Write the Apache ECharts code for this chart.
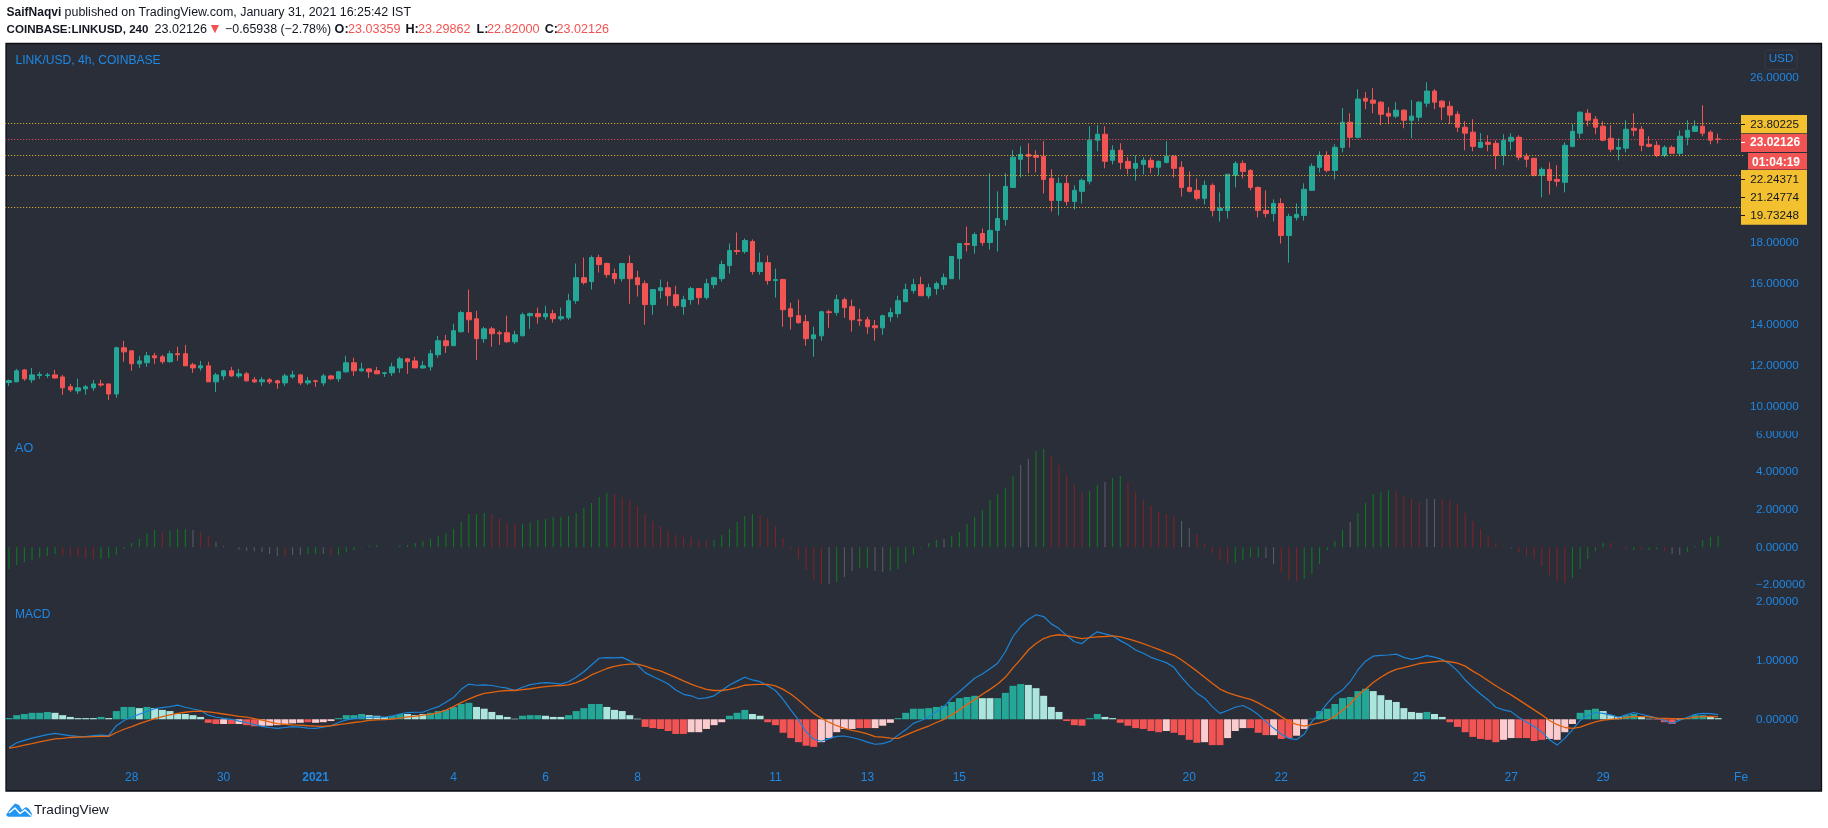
<!DOCTYPE html>
<html><head><meta charset="utf-8">
<style>html,body{margin:0;padding:0;background:#fff}#c{width:1828px;height:828px}</style>
<script src="https://cdn.jsdelivr.net/npm/echarts@6/dist/echarts.min.js"></script>
</head><body><div id="c"></div>
<script>
// [open, close, low, high] per 4h candle
const candles = [
[11.19,11.28,11.02,11.33],[11.22,11.76,11.22,11.85],[11.80,11.37,11.27,11.85],[11.32,11.56,11.17,11.90],[11.53,11.58,11.37,11.71],[11.53,11.56,11.41,11.66],[11.56,11.41,11.37,11.80],[11.46,10.93,10.59,11.56],
[10.98,10.83,10.73,11.12],[10.78,10.93,10.63,11.37],[10.88,10.98,10.59,11.07],[10.93,11.12,10.78,11.32],[11.12,11.07,10.98,11.32],[11.12,10.63,10.34,11.12],[10.63,12.88,10.44,12.93],[12.88,12.68,12.20,13.22],
[12.73,12.10,11.76,12.73],[12.10,12.24,11.90,12.49],[12.15,12.49,11.95,12.68],[12.49,12.39,12.10,12.63],[12.44,12.20,12.10,12.54],[12.20,12.59,12.15,12.73],[12.59,12.54,12.24,12.93],[12.59,12.00,12.00,13.02],
[12.05,11.90,11.66,12.15],[11.90,12.00,11.76,12.24],[12.00,11.22,11.22,12.20],[11.22,11.56,10.73,11.66],[11.51,11.76,11.32,11.80],[11.76,11.51,11.46,11.95],[11.51,11.61,11.41,11.85],[11.61,11.27,11.22,11.71],
[11.32,11.22,11.17,11.46],[11.22,11.32,11.02,11.46],[11.32,11.22,11.12,11.41],[11.27,11.17,10.88,11.32],[11.17,11.51,11.02,11.61],[11.46,11.56,11.37,11.76],[11.56,11.17,11.07,11.61],[11.17,11.27,11.07,11.46],
[11.27,11.24,10.98,11.32],[11.17,11.51,11.02,11.61],[11.51,11.37,11.32,11.56],[11.37,11.71,11.22,11.76],[11.71,12.15,11.66,12.49],[12.15,11.76,11.51,12.39],[11.76,11.85,11.71,12.15],[11.85,11.71,11.41,11.90],
[11.76,11.61,11.61,11.95],[11.63,11.66,11.46,11.71],[11.66,11.95,11.51,12.15],[11.90,12.34,11.66,12.44],[12.34,12.20,11.61,12.39],[12.24,11.90,11.90,12.44],[11.90,12.00,11.85,12.24],[11.95,12.59,11.76,12.78],
[12.54,13.22,12.39,13.46],[13.22,12.98,12.63,13.51],[12.98,13.71,12.98,14.05],[13.66,14.59,13.61,14.68],[14.59,14.24,13.61,15.71],[14.29,13.32,12.29,14.68],[13.32,13.80,13.12,13.90],[13.80,13.56,12.93,13.90],
[13.61,13.56,13.02,13.71],[13.61,13.17,13.12,14.44],[13.17,13.51,13.07,13.71],[13.46,14.49,13.46,14.59],[14.44,14.54,13.80,14.59],[14.54,14.39,14.05,14.83],[14.39,14.54,14.24,14.93],[14.54,14.29,14.10,14.73],
[14.29,14.39,14.20,14.83],[14.34,15.17,14.24,15.51],[15.17,16.29,15.02,16.98],[16.29,16.05,15.95,17.27],[16.10,17.27,15.71,17.37],[17.27,16.93,16.54,17.41],[16.98,16.44,16.29,17.02],[16.49,16.24,16.00,16.73],
[16.24,16.98,16.10,16.98],[16.98,16.24,15.02,17.37],[16.29,15.95,15.37,16.63],[16.00,14.98,14.00,16.15],[14.98,15.71,14.49,15.71],[15.66,15.80,15.27,16.20],[15.80,15.41,14.93,16.10],[15.46,14.93,14.83,15.90],
[14.88,15.22,14.49,15.41],[15.22,15.76,14.98,15.85],[15.76,15.32,14.98,15.76],[15.32,16.00,15.22,16.24],[15.95,16.29,15.76,16.34],[16.24,16.93,16.10,17.12],[16.88,17.61,16.49,17.95],[17.61,17.56,17.41,18.49],
[17.56,18.10,17.46,18.20],[18.05,16.59,16.44,18.15],[16.59,17.02,16.44,17.51],[17.02,16.15,15.95,17.37],[16.15,16.20,15.32,16.73],[16.20,14.73,13.90,16.24],[14.78,14.39,13.76,15.07],[14.44,14.10,14.05,15.22],
[14.15,13.32,12.98,14.49],[13.32,13.51,12.44,13.90],[13.46,14.63,13.22,14.68],[14.63,14.59,13.85,14.73],[14.59,15.22,14.44,15.46],[15.22,14.83,14.34,15.32],[14.88,14.24,13.66,15.22],[14.24,14.20,13.95,14.78],
[14.24,13.90,13.56,14.39],[13.95,13.85,13.22,14.24],[13.85,14.44,13.51,14.49],[14.39,14.59,14.15,14.83],[14.54,15.17,14.34,15.41],[15.12,15.71,15.12,16.00],[15.66,15.95,15.51,16.24],[15.95,15.41,15.41,16.34],
[15.41,15.80,15.27,16.00],[15.76,16.00,15.46,16.10],[15.95,16.29,15.71,16.49],[16.24,17.32,16.24,17.32],[17.22,17.95,16.20,17.95],[17.95,17.90,17.56,18.78],[17.85,18.39,17.46,18.49],[18.44,18.00,17.85,18.68],
[18.00,18.59,17.66,21.37],[18.59,19.17,17.56,20.49],[19.12,20.73,18.83,21.37],[20.68,22.15,20.68,22.49],[22.05,22.29,21.17,22.68],[22.29,22.20,21.37,22.83],[22.24,22.15,21.41,22.49],[22.20,21.07,20.39,22.93],
[21.12,20.05,19.51,21.56],[20.05,20.88,19.32,21.17],[20.88,20.00,19.80,21.27],[20.00,20.54,19.61,20.78],[20.49,21.02,19.90,21.12],[20.98,22.98,20.83,23.66],[22.98,23.27,22.44,23.71],[23.27,21.95,21.61,23.66],
[22.00,22.49,21.80,22.73],[22.49,21.90,21.56,22.83],[21.95,21.61,21.32,22.15],[21.61,21.85,21.02,22.24],[21.80,22.00,21.32,22.15],[22.00,21.66,21.37,22.15],[21.66,21.95,21.27,22.00],[21.90,22.20,21.85,22.93],
[22.20,21.61,21.17,22.24],[21.66,20.68,20.24,21.95],[20.68,20.49,20.44,21.46],[20.54,20.15,20.05,21.12],[20.15,20.78,19.85,21.02],[20.78,19.56,19.27,20.88],[19.56,19.66,19.02,20.44],[19.56,21.32,19.17,21.32],
[21.27,21.85,20.68,21.95],[21.85,21.46,21.12,22.00],[21.51,20.68,20.54,21.56],[20.68,19.56,19.22,20.73],[19.56,19.41,19.22,20.54],[19.41,19.90,19.02,20.10],[19.90,18.34,17.95,20.15],[18.34,19.27,17.02,19.41],
[19.22,19.37,19.07,19.90],[19.32,20.59,19.07,20.88],[20.54,21.71,20.54,21.85],[21.66,22.24,21.41,22.44],[22.24,21.51,21.41,22.44],[21.51,22.63,21.07,22.78],[22.63,23.85,22.39,24.54],[23.85,23.12,22.63,24.29],
[23.12,24.98,23.07,25.46],[25.02,24.88,24.49,25.32],[24.93,24.78,24.29,25.51],[24.83,24.24,23.71,24.88],[24.29,24.15,23.76,24.59],[24.15,24.44,24.05,24.83],[24.44,23.95,23.56,24.49],[23.95,24.15,23.07,24.93],
[24.10,24.83,23.90,24.88],[24.78,25.37,24.59,25.80],[25.37,24.83,24.49,25.46],[24.88,24.59,23.95,24.93],[24.63,24.20,23.76,24.88],[24.24,23.61,23.37,24.39],[23.61,23.32,22.49,23.90],[23.37,22.68,22.44,24.00],
[22.63,22.88,22.59,23.32],[22.88,22.78,22.44,23.22],[22.83,22.24,21.56,22.98],[22.24,22.98,21.76,23.27],[22.93,23.12,22.49,23.32],[23.12,22.15,22.00,23.22],[22.20,22.05,21.66,22.34],[22.10,21.27,21.22,22.10],
[21.27,21.56,20.20,21.66],[21.56,21.02,20.34,21.90],[21.07,20.98,20.73,21.76],[20.93,22.73,20.44,22.88],[22.68,23.41,22.63,23.76],[23.32,24.34,23.07,24.39],[24.29,23.95,23.66,24.49],[24.00,23.61,23.27,24.15],
[23.66,22.98,22.93,23.90],[23.07,22.54,22.39,23.71],[22.54,22.63,22.00,23.07],[22.59,23.51,22.39,23.95],[23.56,23.46,23.17,24.29],[23.51,22.73,22.44,23.66],[22.78,22.68,22.63,23.17],[22.73,22.24,22.15,22.93],
[22.24,22.63,22.15,22.73],[22.63,22.34,22.34,22.73],[22.34,23.17,22.20,23.46],[23.12,23.46,22.73,23.95],[23.41,23.66,23.37,23.95],[23.66,23.32,23.17,24.68],[23.37,22.98,22.78,23.46],[23.03359,23.02126,22.82,23.29862]
];
const aoValues = [
-1.15,-.94,-.78,-.67,-.57,-.46,-.35,-.41,-.46,-.51,-.57,-.62,-.62,-.57,-.41,-.09,.23,.44,.76,.92,.82,.87,.98,.98,.92,.82,.60,.28,.07,.02,-.12,-.18,-.21,-.25,-.35,-.46,-.46,-.41,-.41,-.35,-.35,-.35,-.41,-.41,-.25,-.14,-.02,.05,.12,.02,.01,.09,.12,.23,.34,.44,.60,.76,.98,1.35,1.77,1.77,1.83,1.77,1.56,1.29,1.24,1.24,1.29,1.45,1.51,1.61,1.61,1.67,1.83,2.09,2.36,2.68,2.89,2.84,2.68,2.52,2.20,1.77,1.40,1.13,.87,.66,.55,.55,.39,.34,.39,.66,.98,1.35,1.67,1.77,1.72,1.56,1.08,.50,-.14,-.62,-1.21,-1.74,-1.95,-1.95,-1.84,-1.58,-1.26,-1.10,-1.10,-1.26,-1.31,-1.26,-1.15,
-.83,-.41,-.04,.23,.39,.44,.60,.82,1.24,1.61,1.99,2.52,2.84,3.16,3.79,4.38,4.70,5.12,5.23,4.86,4.38,3.85,3.32,2.89,3.00,3.32,3.48,3.69,3.79,3.48,2.94,2.52,2.20,1.88,1.77,1.67,1.40,1.03,.71,.18,-.30,-.67,-.89,-.83,-.67,-.51,-.51,-.57,-.89,-1.31,-1.74,-1.79,-1.68,-1.42,-.89,-.14,.34,.92,1.35,1.83,2.36,2.84,2.94,3.05,3.00,2.73,2.57,2.41,2.57,2.57,2.57,2.52,2.30,1.83,1.40,.98,.60,.23,.07,-.05,-.25,-.46,-.62,-.99,-1.47,-1.79,-1.90,-1.63,-1.15,-.62,-.20,.23,.23,.02,-.14,-.14,-.14,-.14,-.11,-.20,-.35,-.41,-.25,.07,.39,.55,.60];
const aoTones = ['ggggggg','rrrrr','gggggggg','r','ggg','n','rr','nn','r','nnnnnn','r','nn','gg','n','r','gggggg','rr','gggggggggggg','rrrr','gggggggggggg','rrrrrrrrrrrrr','gggggg','rrrrrrrrr','n','g','nn','gg','nn','gg',
'ggggg','n','ggggggggg','nn','gg','rrrrr','gg','n','gg','rrrrrrr','nn','rrrrr','gggg','nn','rrr','gggggg','n','ggggg','rrrr','nn','rrrrrrrrr','n','rrrrrrr','ggggg','rrr','g','r','gg','r','nn','ggggg'].join('');
const histValues = [
.02,.07,.09,.11,.11,.125,.11,.07,.04,.02,.02,.02,.04,.02,.14,.21,.21,.19,.21,.19,.16,.14,.09,.09,.07,.04,
-.06,-.08,-.08,-.08,-.08,-.10,-.12,-.11,-.11,-.10,-.09,-.07,-.06,-.05,-.06,-.05,-.03,
.02,.07,.07,.09,.07,.06,.04,.06,.09,.09,.07,.09,.11,.14,.16,.21,.26,.28,.21,.18,.125,.07,.04,.01,.06,.07,.07,.06,.04,.04,.07,.14,.19,.26,.26,.21,.16,.14,.07,.01,
-.13,-.15,-.165,-.20,-.25,-.25,-.22,-.22,-.165,-.10,-.05,.06,.11,.16,.09,.06,-.05,-.10,-.23,-.32,-.39,-.45,-.47,-.39,-.32,-.22,-.165,-.165,-.15,-.15,-.15,-.11,-.06,.02,
.11,.18,.18,.19,.21,.23,.295,.36,.38,.40,.36,.36,.36,.45,.57,.60,.585,.53,.40,.21,.125,-.03,-.10,-.11,.02,.09,.04,.02,
-.06,-.11,-.15,-.165,-.20,-.22,-.20,-.23,-.27,-.35,-.40,-.39,-.44,-.44,-.32,-.20,-.15,-.15,-.23,-.27,-.27,-.335,-.32,-.28,-.165,
.01,.14,.18,.26,.36,.38,.48,.52,.48,.41,.33,.295,.19,.125,.11,.125,.09,.04,
-.05,-.13,-.22,-.30,-.335,-.35,-.39,-.35,-.32,-.32,-.32,-.37,-.35,-.335,-.35,-.22,-.08,
.11,.16,.18,.14,.07,.04,.07,.09,.04,.01,-.01,-.05,-.08,-.01,.02,.07,.07,.04,.02];
const histTones = ['GGGGGG','gggggg','G','g','GGG','g','G','ggggggg',
'RR','r','R','r','RR','rrrrrr','R','rrr',
'GGGG','ggg','GG','ggg','GGGGGG','gggggg','GGG','ggg','GGGGG','ggggg',
'RRRRRR','rrrrr','GGG','gg','RRRRRRR','rrrrr','RR','rrr','G',
'GGGGGGGGGG','gg','GGGG','ggggg','RRR','GG','gg',
'RRRRRR','r','RRRR','r','RR','rrr','RRR','r','RR','rr',
'GGGGGGGG','ggggggg','G','gg',
'RRRRRRR','rr','RRRR','rrrr',
'GGG','ggg','GG','gg','RRR','r','GGG','gg'].join('');
const macdLine = [
-.48,-.40,-.36,-.32,-.29,-.26,-.24,-.26,-.28,-.29,-.295,-.28,-.27,-.28,-.11,-.02,.035,.085,.135,.18,.20,.215,.24,.205,.175,.15,.07,.035,.015,0,-.03,-.055,-.09,-.12,-.14,-.155,-.14,-.125,-.135,-.15,-.155,-.135,-.11,-.055,-.01,.01,.03,.035,.035,.035,.055,.09,.115,.12,.12,.17,.215,.29,.37,.51,.60,.58,.585,.575,.55,.53,.49,.545,.59,.61,.625,.615,.60,.64,.715,.81,.925,1.04,1.05,1.045,1.055,.995,.925,.795,.73,.67,.60,.50,.425,.40,.35,.365,.40,.49,.585,.65,.715,.67,.64,.57,.49,.34,.16,-.01,-.21,-.34,-.375,-.33,-.29,-.285,-.31,-.345,-.39,-.425,-.415,-.375,-.27,
-.18,-.07,-.02,.04,.13,.215,.36,.47,.585,.70,.77,.86,.955,1.15,1.41,1.58,1.70,1.78,1.75,1.625,1.545,1.43,1.32,1.29,1.40,1.49,1.455,1.42,1.34,1.27,1.18,1.125,1.055,1.01,.965,.885,.715,.57,.445,.36,.215,.10,.15,.205,.235,.17,.08,-.04,-.15,-.255,-.325,-.345,-.255,-.04,.10,.27,.415,.50,.64,.84,.99,1.075,1.09,1.095,1.11,1.055,1.02,1.045,1.085,1.06,1.02,.94,.825,.67,.545,.43,.33,.205,.16,.13,.03,-.045,-.125,-.215,-.35,-.44,-.325,-.18,-.02,.06,.115,.10,.075,.035,.075,.115,.085,.055,.02,-.02,-.07,-.015,.035,.085,.10,.095,.08];
const signalLine = [
-.49,-.47,-.44,-.415,-.385,-.36,-.335,-.325,-.31,-.305,-.30,-.295,-.29,-.29,-.225,-.17,-.125,-.075,-.03,.01,.045,.075,.10,.12,.135,.14,.125,.11,.09,.07,.05,.035,.01,-.015,-.045,-.075,-.085,-.095,-.10,-.11,-.115,-.12,-.11,-.09,-.075,-.055,-.04,-.02,-.01,-.005,.005,.02,.04,.05,.07,.085,.115,.155,.215,.285,.345,.40,.44,.46,.48,.49,.49,.505,.52,.54,.555,.57,.575,.585,.625,.68,.755,.81,.865,.90,.925,.94,.94,.905,.86,.825,.77,.715,.655,.60,.55,.51,.49,.49,.51,.54,.58,.59,.595,.595,.57,.51,.43,.33,.215,.10,.015,-.05,-.11,-.155,-.19,-.215,-.25,-.295,-.305,-.32,-.325,
-.27,-.215,-.165,-.115,-.055,0,.075,.16,.25,.335,.425,.51,.60,.715,.875,1.02,1.18,1.29,1.375,1.42,1.44,1.425,1.40,1.375,1.39,1.405,1.41,1.42,1.405,1.37,1.33,1.29,1.24,1.19,1.14,1.09,1.01,.915,.82,.715,.615,.515,.455,.41,.375,.34,.28,.205,.135,.045,-.04,-.085,-.115,-.09,-.06,-.02,.05,.155,.26,.41,.51,.625,.715,.795,.85,.88,.915,.95,.965,.98,.995,.98,.955,.905,.82,.745,.655,.57,.49,.415,.33,.245,.16,.075,-.02,-.09,-.14,-.155,-.135,-.085,-.045,-.015,0,.01,.03,.045,.045,.04,.02,.015,.01,.01,.015,.035,.045,.05,.045];
const priceLevels = [23.80225, 22.24371, 21.24774, 19.73248];
const lastPrice = 23.02126;
const priceTicks = [26,18,16,14,12,10];
const aoTicks = [6,4,2,0,-2];
const macdTicks = [2,1,0];
const dateTickIndex = [16,28,40,58,70,82,100,112,124,142,154,166,184,196,208,226];
const dateTickLabels = ['28','30','2021','4','6','8','11','13','15','18','20','22','25','27','29','Fe'];
const slotCount = 227;
const categories = Array.from({length:slotCount},(_,i)=>String(i));

const BLUE='#1e88e5', BG='#2a2e39', UP='#24a797', DOWN='#f25353', YEL='#f3c02f', FONT='"Liberation Sans",Arial,sans-serif';
const grids=[{top:44,height:386},{top:430,height:166},{top:596,height:174}].map(g=>({...g,left:5.2,width:1739.7,containLabel:false}));
const fmt=v=>v.toFixed(5).replace('-','\u2212');
function xAx(i,show){return {type:'category',gridIndex:i,data:categories,boundaryGap:true,axisLine:{show:false},axisTick:{show:false},splitLine:{show:false},
 axisLabel:{show:show,interval:k=>dateTickIndex.includes(k),margin:2,color:BLUE,fontSize:12,fontFamily:FONT,
  formatter:(v)=>{const k=dateTickIndex.indexOf(+v);const t=k<0?'':dateTickLabels[k];return t==='2021'?'{b|2021}':t;},
  rich:{b:{fontWeight:'bold',color:BLUE,fontSize:12,fontFamily:FONT}}}};}
function yAx(i,min,max,ticks,margin){return {type:'value',gridIndex:i,position:'right',min,max,scale:false,axisLine:{show:false},axisTick:{show:false},splitLine:{show:false},
 axisLabel:{customValues:ticks,color:BLUE,fontSize:11.7,fontFamily:FONT,margin,align:'left',formatter:fmt}};}
const T=(text,x,y,o={})=>({type:'text',z:100,silent:true,style:{text,x,y,fill:o.fill||'#131722',font:`${o.w||'normal'} ${o.s||12.6}px ${FONT}`,textVerticalAlign:'middle',textAlign:o.a||'left'}});
const R=(x,y,w,h,fill,o={})=>({type:'rect',z:o.z||90,silent:true,shape:{x,y,width:w,height:h,r:o.r||0},style:{fill,stroke:o.stroke||null,lineWidth:o.lw||0}});
const graphic=[
 R(6,43.5,1815.5,747.5,BG,{z:-10,stroke:'#0c0e14',lw:1.3}),
 R(1750,424,60,7,BG,{z:90}),
 T('SaifNaqvi',6.6,13,{w:'bold',s:12}),T('published on TradingView.com, January 31, 2021 16:25:42 IST',64.6,13,{s:12.45}),
 T('COINBASE:LINKUSD, 240',6.6,29.5,{w:'bold',s:11.55}),T('23.02126',154.5,29.5),T('\u25BC',208,29.5,{fill:DOWN,s:14}),T('\u22120.65938 (\u22122.78%)',225,29.5,{s:12.4}),
 T('O:',334.6,29.5,{w:'bold'}),T('23.03359',348,29.5,{fill:DOWN}),T('H:',405.4,29.5,{w:'bold'}),T('23.29862',418,29.5,{fill:DOWN}),
 T('L:',476.6,29.5,{w:'bold'}),T('22.82000',487,29.5,{fill:DOWN}),T('C:',544.7,29.5,{w:'bold'}),T('23.02126',556.4,29.5,{fill:DOWN}),
 T('LINK/USD, 4h, COINBASE',15.5,60.5,{fill:BLUE,s:12.1}),T('AO',15,449,{fill:BLUE,s:12.6}),T('MACD',15,615,{fill:BLUE,s:12}),
 R(1765,50,32,19.5,'transparent',{stroke:'#363a45',lw:1,r:3}),T('USD',1781,59,{fill:BLUE,s:11.7,a:'center'}),
 R(1741,115,66,18.3,YEL),R(1741,134,66,18,DOWN),R(1748,153,59,16.5,DOWN),R(1741,170,66,54.7,YEL),
 T('23.80225',1750.3,124.3,{s:11.7}),T('23.02126',1750,142.7,{s:12,fill:'#fff',w:'bold'}),T('01:04:19',1752,162.5,{s:12,fill:'#fff',w:'bold'}),
 T('22.24371',1750.3,179.3,{s:11.7}),T('21.24774',1750.3,197.3,{s:11.7}),T('19.73248',1750.3,215.3,{s:11.7}),
 R(1741,124,4,1,'#131722',{z:95}),R(1741,142,4,1,'#fff',{z:95}),R(1741,179,4,1,'#131722',{z:95}),R(1741,197,4,1,'#131722',{z:95}),R(1741,215,4,1,'#131722',{z:95}),
 {type:'polygon',z:100,silent:true,shape:{points:[[6,815],[10,809],[15,803.5],[19,805],[22,810],[26,807],[29,809],[32,814],[31,816.7],[8,816.7]]},style:{fill:'#2196f3'}},
 {type:'polyline',z:101,silent:true,shape:{points:[[9,813],[15,808],[20,813.5],[25,810],[31,815.5]]},style:{stroke:'#fff',fill:null,lineWidth:1.5}},
 T('TradingView',34,810,{s:13.6})
];
const lvl=(v,c)=>({yAxis:v,lineStyle:{color:c,type:[1,2],width:1}});
const toneColor={g:'#0d7d1e',r:'#862222',n:'#5c5f66'};
const histColor={G:UP,g:'#ace5dc',R:DOWN,r:'#fccbcd'};
const option={animation:false,backgroundColor:'#fff',tooltip:{show:false},graphic,grid:grids,
 xAxis:[xAx(0,false),xAx(1,false),xAx(2,true)],
 yAxis:[yAx(0,8.878,27.66,priceTicks,5),yAx(1,-2.59,6.24,aoTicks,11),yAx(2,-.864,2.10,macdTicks,11)],
 series:[
  {type:'candlestick',xAxisIndex:0,yAxisIndex:0,barWidth:5,data:candles,
   itemStyle:{color:UP,color0:DOWN,borderColor:UP,borderColor0:DOWN,borderWidth:1},
   markLine:{silent:true,symbol:'none',animation:false,label:{show:false},emphasis:{disabled:true},
    data:[...priceLevels.map(v=>lvl(v,YEL)),lvl(lastPrice,DOWN)]}},
  {type:'bar',xAxisIndex:1,yAxisIndex:1,barWidth:1,data:aoValues.map((v,i)=>({value:v,itemStyle:{color:toneColor[aoTones[i]]}}))},
  {type:'bar',xAxisIndex:2,yAxisIndex:2,barWidth:7,data:histValues.map((v,i)=>({value:v,itemStyle:{color:histColor[histTones[i]]}}))},
  {type:'line',xAxisIndex:2,yAxisIndex:2,data:macdLine,showSymbol:false,z:4,lineStyle:{color:'#1b84d8',width:1.2}},
  {type:'line',xAxisIndex:2,yAxisIndex:2,data:signalLine,showSymbol:false,z:5,lineStyle:{color:'#e2630f',width:1.3}}
 ]};
const chart=echarts.init(document.getElementById('c'),null,{renderer:'canvas'});
chart.setOption(option);
</script></body></html>
